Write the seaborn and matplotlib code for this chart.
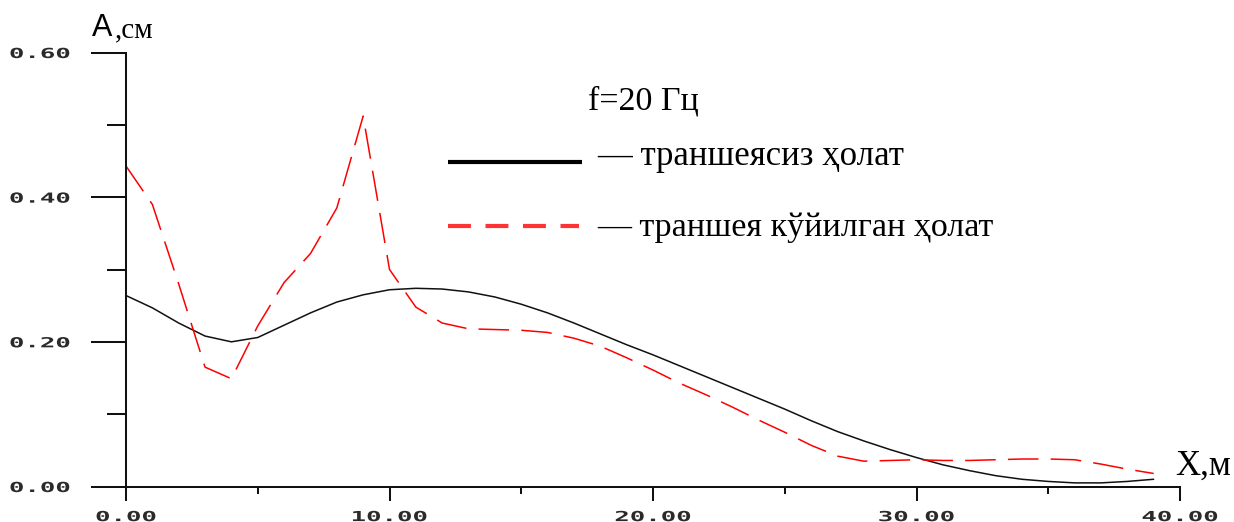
import matplotlib
matplotlib.use("Agg")
import numpy as np
import pandas as pd
import matplotlib.pyplot as plt
import seaborn as sns
from matplotlib.lines import Line2D
from matplotlib.patheffects import AbstractPathEffect
from matplotlib.transforms import Affine2D

# ---- data -------------------------------------------------------------
distance = list(range(0, 40))  # X, m

amp_no_trench = [0.264, 0.247, 0.226, 0.208, 0.200, 0.206, 0.223, 0.240, 0.255, 0.265,
                 0.272, 0.274, 0.273, 0.269, 0.262, 0.252, 0.240, 0.226, 0.211, 0.196,
                 0.182, 0.167, 0.152, 0.137, 0.122, 0.107, 0.091, 0.076, 0.063, 0.051,
                 0.040, 0.030, 0.022, 0.015, 0.010, 0.007, 0.005, 0.005, 0.007, 0.010]

amp_trench = [0.443, 0.390, 0.280, 0.165, 0.149, 0.222, 0.282, 0.322, 0.385, 0.512,
              0.300, 0.248, 0.226, 0.218, 0.217, 0.216, 0.213, 0.205, 0.194, 0.178,
              0.161, 0.143, 0.127, 0.110, 0.092, 0.075, 0.057, 0.042, 0.035, 0.036,
              0.037, 0.036, 0.036, 0.037, 0.038, 0.038, 0.037, 0.031, 0.024, 0.018]

x_major = [0, 10, 20, 30, 40]
x_minor = [5, 15, 25, 35]
x_labels = ["0.00", "10.00", "20.00", "30.00", "40.00"]
y_major = [0.0, 0.2, 0.4, 0.6]
y_minor = [0.1, 0.3, 0.5]
y_labels = ["0.00", "0.20", "0.40", "0.60"]

label_no_trench = "траншеясиз ҳолат"
label_trench = "траншея кўйилган ҳолат"
freq_label = "f=20 Гц"

W, H = 1234, 522
SERIF = ["Liberation Serif", "DejaVu Serif"]


class HStretch(AbstractPathEffect):
    """Widen glyph outlines horizontally around an anchor of the text box."""

    def __init__(self, sx=2.0, anchor=0.5):
        super().__init__()
        self.sx = sx
        self.anchor = anchor

    def draw_path(self, renderer, gc, tpath, affine, rgbFace=None):
        ext = tpath.get_extents()
        x0 = ext.x0 + self.anchor * (ext.x1 - ext.x0)
        t = Affine2D().translate(-x0, 0).scale(self.sx, 1).translate(x0, 0) + affine
        renderer.draw_path(gc, tpath, t, rgbFace)


def px(x, y):
    return x / W, 1 - y / H


sns.set_style("ticks")
plt.rcParams["font.family"] = ["DejaVu Sans"]

fig = plt.figure(figsize=(W / 100, H / 100), dpi=100)
ax = fig.add_axes([126 / W, 1 - 486.5 / H, (1180 - 126) / W, (486.5 - 52.5) / H])

df = pd.DataFrame({"x": distance, "no_trench": amp_no_trench, "trench": amp_trench})
sns.lineplot(data=df, x="x", y="no_trench", ax=ax, color="#111111", lw=1.1,
             errorbar=None)
sns.lineplot(data=df, x="x", y="trench", ax=ax, color="#ff0000", lw=1.1,
             errorbar=None, linestyle=(0, (20, 8)))

ax.set_xlim(0, 40)
ax.set_ylim(0, 0.6)
ax.set_xlabel("")
ax.set_ylabel("")
sns.despine(ax=ax)
for s in ("left", "bottom"):
    ax.spines[s].set_linewidth(1.45)
    ax.spines[s].set_color("#111111")

ax.set_xticks(x_major)
ax.set_xticklabels(x_labels)
ax.set_xticks(x_minor, minor=True)
ax.set_yticks(y_major)
ax.set_yticklabels(y_labels)
ax.set_yticks(y_minor, minor=True)

ax.tick_params(axis="x", which="major", length=10, width=1.45, pad=7,
               direction="out", color="#111111")
ax.tick_params(axis="x", which="minor", length=5, width=1.45, direction="out",
               color="#111111")
ax.tick_params(axis="y", which="major", length=25.2, width=1.45, pad=15,
               direction="out", color="#111111")
ax.tick_params(axis="y", which="minor", length=13.7, width=1.45, direction="out",
               color="#111111")

for lbl in ax.get_xticklabels():
    lbl.set_fontfamily("DejaVu Sans Mono")
    lbl.set_fontsize(10)
    lbl.set_fontweight("bold")
    lbl.set_color("#2a2a2a")
    lbl.set_path_effects([HStretch(1.85, 0.5)])
for lbl in ax.get_yticklabels():
    lbl.set_fontfamily("DejaVu Sans Mono")
    lbl.set_fontsize(10)
    lbl.set_fontweight("bold")
    lbl.set_color("#2a2a2a")
    lbl.set_path_effects([HStretch(1.85, 1.0)])

# axis titles
fig.text(*px(92, 36), "A", family=["Liberation Sans", "DejaVu Sans"], fontsize=22,
         va="baseline", ha="left", color="black")
fig.text(*px(115, 37), ",см", family=SERIF, fontsize=21, va="baseline", ha="left",
         color="black")
fig.text(*px(1175, 475), "X,м", family=SERIF, fontsize=25, va="baseline", ha="left",
         color="black")

# key
fig.text(*px(588, 110), freq_label, family=SERIF, fontsize=24.5, va="baseline",
         color="black")
fig.add_artist(Line2D([448 / W, 582 / W], [1 - 161.5 / H] * 2, transform=fig.transFigure,
                      color="black", lw=3, solid_capstyle="butt"))
fig.add_artist(Line2D([448 / W, 579 / W], [1 - 226 / H] * 2, transform=fig.transFigure,
                      color="#ff3333", lw=3, linestyle=(0, (5.5, 3.5)),
                      dash_capstyle="butt"))
fig.text(*px(597, 165), "— " + label_no_trench, family=SERIF, fontsize=25,
         va="baseline", color="black")
fig.text(*px(597, 236), "— " + label_trench, family=SERIF, fontsize=24.5,
         va="baseline", color="black")

fig.savefig("out.png", dpi=100, facecolor="white")
